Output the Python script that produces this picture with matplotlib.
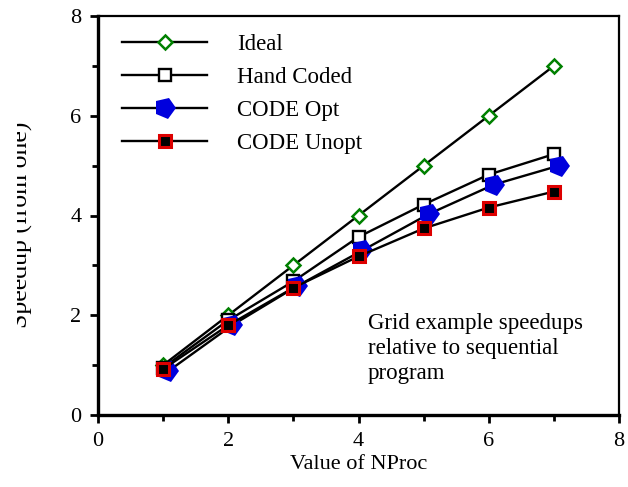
import numpy as np
import matplotlib
matplotlib.use("Agg")
from matplotlib import pyplot as plt
from matplotlib.markers import MarkerStyle
from matplotlib.transforms import Affine2D, Bbox, TransformedBbox

# data
nproc = [1, 2, 3, 4, 5, 6, 7]
nproc_opt = [1.08, 2.06, 3.05, 4.06, 5.08, 6.08, 7.08]
ideal = [1, 2, 3, 4, 5, 6, 7]
hand_coded = [0.95, 1.9, 2.68, 3.57, 4.22, 4.82, 5.23]
code_opt = [0.88, 1.8, 2.58, 3.3, 4.03, 4.62, 5.0]
code_unopt = [0.92, 1.8, 2.55, 3.18, 3.74, 4.16, 4.48]

plt.rcParams['font.family'] = ['Liberation Serif', 'DejaVu Serif']

fig = plt.figure(figsize=(6.28, 4.87), dpi=100)
ax = fig.add_axes([98 / 628, 72 / 487, 521 / 628, 399 / 487])

# rotated pentagon for the blue markers
opt_marker = MarkerStyle('p', transform=Affine2D().rotate_deg(-20))

ax.plot(nproc, ideal, color='black', lw=1.7, marker='D', ms=7,
        mfc='white', mec='green', mew=1.8, label='Ideal')
ax.plot(nproc, hand_coded, color='black', lw=1.7, marker='s', ms=8.5,
        mfc='white', mec='black', mew=1.7, label='Hand Coded')
ax.plot(nproc_opt, code_opt, color='black', lw=1.7, marker=opt_marker, ms=16,
        mfc='#0000dd', mec='#0000dd', mew=0, label='CODE Opt')
ax.plot(nproc, code_unopt, color='black', lw=1.7, marker='s', ms=8.5,
        mfc='black', mec='#dd0000', mew=2.2, label='CODE Unopt')

ax.set_xlim(0, 8)
ax.set_ylim(0, 8)
ax.set_xticks([0, 2, 4, 6, 8])
ax.set_yticks([0, 2, 4, 6, 8])
ax.set_xticks([1, 3, 5, 7], minor=True)
ax.set_yticks([1, 3, 5, 7], minor=True)
ax.tick_params(which='major', direction='out', length=6, width=2, labelsize=16, pad=6)
ax.tick_params(which='minor', direction='out', length=4, width=2)
ax.tick_params(axis='x', which='both', top=False)
ax.tick_params(axis='y', which='both', right=False)

for side in ['left', 'bottom']:
    ax.spines[side].set_linewidth(2.4)
for side in ['top', 'right']:
    ax.spines[side].set_linewidth(1.6)

ax.set_xlabel('Value of NProc', fontsize=16, labelpad=3)

# y label: only its lower half shows in the source figure, so clip the top part
ylab = fig.text(33 / 628, 0.538, 'Speedup (from one)', rotation=90, fontsize=18.5,
                ha='right', va='center')
ylab.set_clip_box(TransformedBbox(Bbox([[17 / 628, 0], [1, 1]]), fig.transFigure))
ylab.set_clip_on(True)

ax.text(4.14, 2.04, 'Grid example speedups\nrelative to sequential\nprogram',
        fontsize=16.5, va='top', ha='left', linespacing=1.25)

ax.legend(loc='upper left', frameon=False, fontsize=16.5, handlelength=3.7,
          handletextpad=1.3, labelspacing=0.52, borderaxespad=0.2,
          bbox_to_anchor=(0.02, 0.99))

fig.savefig('out.png', dpi=100)
